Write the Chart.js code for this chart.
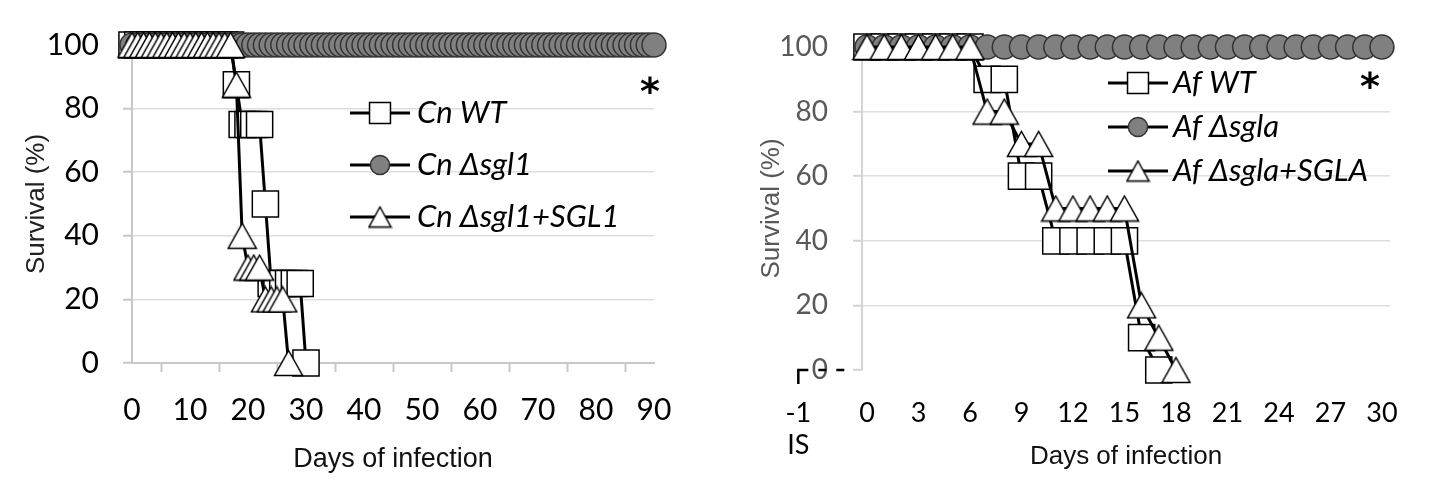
<!DOCTYPE html>
<html>
<head>
<meta charset="utf-8">
<script src="https://cdn.jsdelivr.net/npm/chart.js@4.4.7/dist/chart.umd.min.js"></script>
<style>
  html, body { margin: 0; padding: 0; background: #ffffff; }
  #wrap { position: relative; width: 1452px; height: 486px; overflow: hidden; }
  #cnChart { position: absolute; left: 0; top: 0; }
  #afChart { position: absolute; left: 700px; top: 0; }
</style>
</head>
<body>
<div id="wrap">
  <canvas id="cnChart" width="700" height="486"></canvas>
  <canvas id="afChart" width="752" height="486"></canvas>
</div>
<script>
// Cryptococcus panel, one point per day
const cnDays = [
  0, 1, 2, 3, 4, 5, 6, 7, 8, 9, 10, 11, 12, 13, 14, 15, 16, 17, 18, 19,
  20, 21, 22, 23, 24, 25, 26, 27, 28, 29, 30, 31, 32, 33, 34, 35, 36, 37, 38, 39,
  40, 41, 42, 43, 44, 45, 46, 47, 48, 49, 50, 51, 52, 53, 54, 55, 56, 57, 58, 59,
  60, 61, 62, 63, 64, 65, 66, 67, 68, 69, 70, 71, 72, 73, 74, 75, 76, 77, 78, 79,
  80, 81, 82, 83, 84, 85, 86, 87, 88, 89, 90,
];
const cnWT = [
  100, 100, 100, 100, 100, 100, 100, 100, 100, 100, 100, 100, 100, 100, 100, 100, 100, 100,
  87.5, 75, 75, 75, 75, 50, 25, 25, 25, 25, 25, 25, 0,
];
const cnDelta = [
  100, 100, 100, 100, 100, 100, 100, 100, 100, 100, 100, 100, 100, 100, 100, 100, 100, 100, 100, 100,
  100, 100, 100, 100, 100, 100, 100, 100, 100, 100, 100, 100, 100, 100, 100, 100, 100, 100, 100, 100,
  100, 100, 100, 100, 100, 100, 100, 100, 100, 100, 100, 100, 100, 100, 100, 100, 100, 100, 100, 100,
  100, 100, 100, 100, 100, 100, 100, 100, 100, 100, 100, 100, 100, 100, 100, 100, 100, 100, 100, 100,
  100, 100, 100, 100, 100, 100, 100, 100, 100, 100, 100,
];
const cnComp = [
  100, 100, 100, 100, 100, 100, 100, 100, 100, 100, 100, 100, 100, 100, 100, 100, 100, 100,
  87.5, 40, 30, 30, 30, 20, 20, 20, 20, 0,
];

// Aspergillus panel
const afDays = [
  0, 1, 2, 3, 4, 5, 6, 7, 8, 9, 10, 11, 12, 13, 14, 15, 16, 17, 18, 19,
  20, 21, 22, 23, 24, 25, 26, 27, 28, 29, 30,
];
const afWT = [100, 100, 100, 100, 100, 100, 100, 90, 90, 60, 60, 40, 40, 40, 40, 40, 10, 0];
const afDelta = [
  100, 100, 100, 100, 100, 100, 100, 100, 100, 100, 100, 100, 100, 100, 100, 100,
  100, 100, 100, 100, 100, 100, 100, 100, 100, 100, 100, 100, 100, 100, 100,
];
const afComp = [100, 100, 100, 100, 100, 100, 100, 80, 80, 70, 70, 50, 50, 50, 50, 50, 20, 10, 0];
const afTickDays = [0, 3, 6, 9, 12, 15, 18, 21, 24, 27, 30];
// immunosuppression day, shown left of the y axis
const isTickDay = -4;
const isTickLabel = ["-1", "IS"];

const cnLabels = ["Cn WT", "Cn \u0394sgl1", "Cn \u0394sgl1+SGL1"];
const afLabels = ["Af WT", "Af \u0394sgla", "Af \u0394sgla+SGLA"];

Chart.defaults.font.family = "Lato, 'Open Sans', sans-serif";
Chart.defaults.color = "#000000";
Chart.defaults.animation = false;
Chart.defaults.events = [];
Chart.defaults.plugins.legend.display = false;
Chart.defaults.plugins.tooltip.enabled = false;

// excel style triangle: box centred on the point (chart.js puts the apex higher)
function triangleImage(width, height, lineWidth) {
  const canvas = document.createElement("canvas");
  canvas.width = Math.ceil(width + lineWidth * 2);
  canvas.height = Math.ceil(height + lineWidth * 2);
  const ctx = canvas.getContext("2d");
  ctx.beginPath();
  ctx.moveTo(canvas.width / 2, lineWidth);
  ctx.lineTo(canvas.width - lineWidth, canvas.height - lineWidth);
  ctx.lineTo(lineWidth, canvas.height - lineWidth);
  ctx.closePath();
  ctx.fillStyle = "#ffffff";
  ctx.fill();
  ctx.lineWidth = lineWidth;
  ctx.strokeStyle = "#000000";
  ctx.lineJoin = "miter";
  ctx.stroke();
  return canvas;
}

const markers = {
  square: { style: "rect", legendStyle: "rect", radius: 18.5, fill: "#ffffff", stroke: "#000000" },
  circle: { style: "circle", legendStyle: "circle", radius: 12, fill: "#808080", stroke: "#333333" },
  triangle: {
    style: triangleImage(28, 25, 1.5),
    legendStyle: triangleImage(22, 20, 1.5),
    radius: 15,
    fill: "#ffffff",
    stroke: "#000000",
  },
};

function series(label, data, kind, order) {
  const marker = markers[kind];
  return {
    label,
    data,
    order,
    borderColor: "#000000",
    borderWidth: 3,
    tension: 0,
    clip: false,
    pointStyle: marker.style,
    legendPointStyle: marker.legendStyle,
    pointRadius: marker.radius,
    pointHoverRadius: marker.radius,
    pointBackgroundColor: marker.fill,
    pointBorderColor: marker.stroke,
    pointBorderWidth: 1.5,
  };
}

// legend drawn inside the plot: line + marker + italic label, plus the asterisk
const lineLegend = {
  id: "lineLegend",
  afterDraw(chart, args, opts) {
    const ctx = chart.ctx;
    const drawPoint = Chart.helpers && Chart.helpers.drawPoint;
    ctx.save();
    chart.data.datasets.forEach((dataset, index) => {
      const y = opts.top + index * opts.gap;
      const x = opts.left;
      ctx.strokeStyle = "#000000";
      ctx.lineWidth = 3;
      ctx.beginPath();
      ctx.moveTo(x, y);
      ctx.lineTo(x + opts.lineLength, y);
      ctx.stroke();
      ctx.fillStyle = dataset.pointBackgroundColor;
      ctx.strokeStyle = dataset.pointBorderColor;
      ctx.lineWidth = dataset.pointBorderWidth;
      if (drawPoint) {
        drawPoint(ctx, {
          pointStyle: dataset.legendPointStyle,
          radius: dataset.pointRadius * opts.markerScale,
          borderWidth: dataset.pointBorderWidth,
          rotation: 0,
        }, x + opts.lineLength / 2, y);
      }
      ctx.fillStyle = "#000000";
      ctx.font = opts.font;
      ctx.textAlign = "left";
      ctx.textBaseline = "middle";
      ctx.fillText(dataset.label, x + opts.lineLength + opts.textGap, y);
    });
    ctx.font = opts.starFont;
    ctx.textAlign = "center";
    ctx.textBaseline = "middle";
    ctx.fillText("*", opts.starX, opts.starY);
    ctx.restore();
  },
};

// broken axis piece under the IS label
const isMarker = {
  id: "isMarker",
  afterDraw(chart) {
    const ctx = chart.ctx;
    const xScale = chart.scales.x;
    const yScale = chart.scales.y;
    const left = xScale.getPixelForValue(isTickDay);
    const right = xScale.getPixelForValue(-0.75);
    const y = yScale.getPixelForValue(0);
    ctx.save();
    ctx.strokeStyle = "#000000";
    ctx.lineWidth = 2.5;
    ctx.beginPath();
    ctx.moveTo(left, y + 14);
    ctx.lineTo(left, y);
    ctx.lineTo(left + 10, y);
    ctx.stroke();
    ctx.setLineDash([8, 10]);
    ctx.beginPath();
    ctx.moveTo(left + 20, y);
    ctx.lineTo(right, y);
    ctx.stroke();
    ctx.restore();
  },
};

new Chart(document.querySelector("#cnChart"), {
  type: "line",
  data: {
    labels: cnDays,
    datasets: [
      series(cnLabels[0], cnWT, "square", 2),
      series(cnLabels[1], cnDelta, "circle", 1),
      series(cnLabels[2], cnComp, "triangle", 0),
    ],
  },
  options: {
    responsive: false,
    layout: { padding: { top: 45, right: 46, bottom: 0, left: 0 } },
    scales: {
      x: {
        type: "linear",
        min: 0,
        max: 90,
        afterFit(scale) { scale.height = 123; },
        grid: {
          drawOnChartArea: false,
          drawTicks: true,
          tickLength: 9,
          tickWidth: 2,
          tickColor: (c) => (c.tick && c.tick.value % 10 === 5 ? "#c8c8c8" : "rgba(0,0,0,0)"),
        },
        border: { color: "#c8c8c8", width: 2 },
        ticks: {
          stepSize: 5,
          autoSkip: false,
          maxRotation: 0,
          padding: 20,
          color: "#000000",
          font: { size: 30 },
          callback: (value) => (value % 10 === 0 ? String(value) : ""),
        },
        title: {
          display: true,
          text: "Days of infection",
          color: "#111111",
          font: { family: "'Liberation Sans', Arial, sans-serif", size: 27 },
          padding: { top: 0, bottom: 10 },
        },
      },
      y: {
        min: 0,
        max: 100,
        afterFit(scale) { scale.width = 132; },
        grid: { color: "#dedede", lineWidth: 1.5, tickLength: 9, tickColor: "#c8c8c8", tickWidth: 2 },
        border: { color: "#c8c8c8", width: 2 },
        ticks: { stepSize: 20, padding: 24, color: "#000000", font: { size: 30 } },
        title: {
          display: true,
          text: "Survival (%)",
          color: "#222222",
          font: { family: "'Liberation Sans', Arial, sans-serif", size: 26 },
          padding: { top: 21, bottom: 0 },
        },
      },
    },
    plugins: {
      lineLegend: {
        left: 350,
        top: 113,
        gap: 52,
        lineLength: 60,
        textGap: 7,
        markerScale: 0.8,
        font: "italic 31px Lato, 'Open Sans', sans-serif",
        starFont: "bold 38px 'DejaVu Sans', sans-serif",
        starX: 650,
        starY: 94,
      },
    },
  },
  plugins: [lineLegend],
});

new Chart(document.querySelector("#afChart"), {
  type: "line",
  data: {
    labels: afDays,
    datasets: [
      series(afLabels[0], afWT, "square", 2),
      series(afLabels[1], afDelta, "circle", 1),
      series(afLabels[2], afComp, "triangle", 0),
    ],
  },
  options: {
    responsive: false,
    layout: { padding: { top: 47, right: 62, bottom: 0, left: 0 } },
    scales: {
      x: {
        type: "linear",
        min: -0.29,
        max: 30.47,
        afterBuildTicks(scale) {
          scale.ticks = [isTickDay, ...afTickDays].map((value) => ({ value }));
        },
        afterFit(scale) { scale.height = 116; },
        grid: { drawOnChartArea: false, drawTicks: false },
        border: { display: false },
        ticks: {
          autoSkip: false,
          maxRotation: 0,
          padding: 27,
          color: "#000000",
          font: { size: 27 },
          callback: (value) => (value === isTickDay ? isTickLabel : String(value)),
        },
        title: {
          display: true,
          text: "Days of infection",
          color: "#111111",
          font: { family: "'Liberation Sans', Arial, sans-serif", size: 26 },
          padding: { top: 0, bottom: 14 },
        },
      },
      y: {
        min: 0,
        max: 100,
        afterFit(scale) { scale.width = 162; },
        grid: {
          color: (c) => (c.tick && c.tick.value === 0 ? "rgba(0,0,0,0)" : "#dedede"),
          lineWidth: 1.5,
          tickLength: 9,
          tickColor: "#d4d4d4",
          tickWidth: 2,
        },
        border: { color: "#d4d4d4", width: 2 },
        ticks: { stepSize: 20, padding: 25, color: "#595959", font: { size: 28 } },
        title: {
          display: true,
          text: "Survival (%)",
          color: "#595959",
          font: { family: "'Liberation Sans', Arial, sans-serif", size: 26 },
          padding: { top: 56, bottom: 0 },
        },
      },
    },
    plugins: {
      lineLegend: {
        left: 408,
        top: 83,
        gap: 44,
        lineLength: 60,
        textGap: 5,
        markerScale: 0.8,
        font: "italic 31px Lato, 'Open Sans', sans-serif",
        starFont: "bold 38px 'DejaVu Sans', sans-serif",
        starX: 670,
        starY: 89,
      },
    },
  },
  plugins: [lineLegend, isMarker],
});
</script>
</body>
</html>
